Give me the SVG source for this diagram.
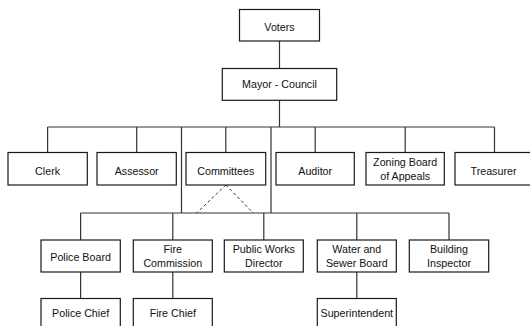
<svg xmlns="http://www.w3.org/2000/svg" width="530" height="326" viewBox="0 0 530 326">
<style>
.box{fill:#fff;stroke:#1a1a1a;stroke-width:1.2}
.t{font-family:"Liberation Sans",Arial,sans-serif;font-size:10.7px;fill:#111;text-anchor:middle}
.c{fill:none;stroke:#333;stroke-width:1.2}
.d{fill:none;stroke:#333;stroke-width:1;stroke-dasharray:3,2.5}
</style>
<rect width="530" height="326" fill="#fff"/>
<g id="connectors">
<path class="c" d="M279.5 41V68.5M279.5 100.3V127M47.6 127H494.5M47.6 127V152.5M136.7 127V152.5M225.8 127V152.5M315.2 127V152.5M405.2 127V152.5M494.5 127V152.5M181.5 127V213M271 127V213M80.6 213H449M80.6 213V240M172.8 213V240M263.8 213V240M356.8 213V240M449 213V240M80.6 272V298.5M172.8 272V298.5M356.8 272V298.5"/>
<path class="d" d="M225.8 185L196.7 213M225.8 185L253.3 213"/>
</g>
<g id="voters"><rect class="box" x="239.5" y="9.5" width="80" height="31.5"/><text class="t" x="279.5" y="31">Voters</text></g>
<g id="mayor"><rect class="box" x="222.3" y="68.5" width="114.4" height="31.8"/><text class="t" x="279.5" y="88">Mayor - Council</text></g>
<g id="clerk"><rect class="box" x="8" y="152.5" width="79.3" height="32.5"/><text class="t" x="47.6" y="174.5">Clerk</text></g>
<g id="assessor"><rect class="box" x="97" y="152.5" width="79.3" height="32.5"/><text class="t" x="136.7" y="174.5">Assessor</text></g>
<g id="committees"><rect class="box" x="186" y="152.5" width="79.7" height="32.5"/><text class="t" x="225.8" y="174.5">Committees</text></g>
<g id="auditor"><rect class="box" x="276" y="152.5" width="78.3" height="32.5"/><text class="t" x="315.2" y="174.5">Auditor</text></g>
<g id="zoning"><rect class="box" x="366" y="152.5" width="78.3" height="32.5"/><text class="t" x="405.2" y="166">Zoning Board</text><text class="t" x="405.2" y="180">of Appeals</text></g>
<g id="treasurer"><rect class="box" x="455" y="152.5" width="79" height="32.5"/><text class="t" x="493.5" y="174.5">Treasurer</text></g>
<g id="police-board"><rect class="box" x="41" y="240" width="79.3" height="32"/><text class="t" x="80.6" y="260.5">Police Board</text></g>
<g id="fire-commission"><rect class="box" x="133.3" y="240" width="79" height="32"/><text class="t" x="172.8" y="253">Fire</text><text class="t" x="172.8" y="266.5">Commission</text></g>
<g id="public-works"><rect class="box" x="224.3" y="240" width="79" height="32"/><text class="t" x="263.8" y="253">Public Works</text><text class="t" x="263.8" y="266.5">Director</text></g>
<g id="water-sewer"><rect class="box" x="317.3" y="240" width="79" height="32"/><text class="t" x="356.8" y="253">Water and</text><text class="t" x="356.8" y="266.5">Sewer Board</text></g>
<g id="building"><rect class="box" x="409.3" y="240" width="79.4" height="32"/><text class="t" x="449" y="253">Building</text><text class="t" x="449" y="266.5">Inspector</text></g>
<g id="police-chief"><rect class="box" x="41" y="298.5" width="79.3" height="40"/><text class="t" x="80.6" y="317">Police Chief</text></g>
<g id="fire-chief"><rect class="box" x="133.3" y="298.5" width="79" height="40"/><text class="t" x="172.8" y="317">Fire Chief</text></g>
<g id="superintendent"><rect class="box" x="317.3" y="298.5" width="79" height="40"/><text class="t" x="356.8" y="317">Superintendent</text></g>
</svg>
